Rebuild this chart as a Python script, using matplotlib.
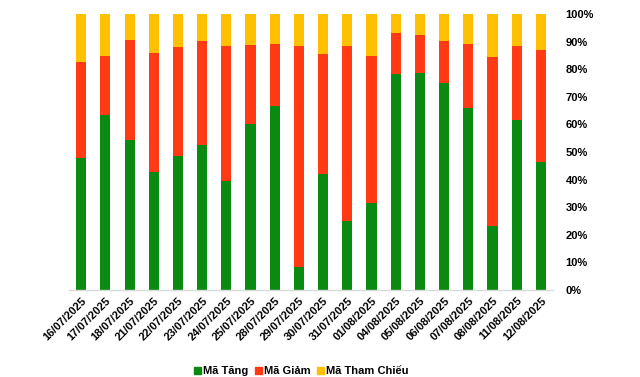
import numpy as np
import matplotlib.pyplot as plt
from matplotlib.ticker import FuncFormatter
from matplotlib.patches import Patch

plt.rcParams['font.family'] = ['Liberation Sans', 'DejaVu Sans']

# Data (% share of stocks per session)
dates = ["16/07/2025", "17/07/2025", "18/07/2025", "21/07/2025", "22/07/2025",
         "23/07/2025", "24/07/2025", "25/07/2025", "28/07/2025", "29/07/2025",
         "30/07/2025", "31/07/2025", "01/08/2025", "04/08/2025", "05/08/2025",
         "06/08/2025", "07/08/2025", "08/08/2025", "11/08/2025", "12/08/2025"]
ma_tang = [47.9, 63.4, 54.3, 42.8, 48.6, 52.5, 39.5, 60.3, 66.7, 8.3,
           42.1, 25.0, 31.6, 78.3, 78.6, 75.0, 65.9, 23.2, 61.6, 46.4]
ma_giam = [34.7, 21.4, 36.3, 43.1, 39.4, 37.7, 48.9, 28.5, 22.4, 80.1,
           43.4, 63.4, 53.2, 14.8, 13.8, 15.2, 23.2, 61.2, 26.8, 40.6]
ma_tham_chieu = [17.4, 15.2, 9.4, 14.1, 12.0, 9.8, 11.6, 11.2, 10.9, 11.6,
                 14.5, 11.6, 15.2, 6.9, 7.6, 9.8, 10.9, 15.6, 11.6, 13.0]

green = "#0A8A10"
red = "#FF3A14"
yellow = "#FFC000"

fig = plt.figure(figsize=(6.4, 3.77), dpi=100)
ax = fig.add_axes([0.108, 0.2308, 0.756, 0.7321])

x = np.arange(len(dates))
w = 0.42
tang = np.array(ma_tang)
giam = np.array(ma_giam)
tham = np.array(ma_tham_chieu)
ax.bar(x, tang, w, color=green, label="Mã Tăng")
ax.bar(x, giam, w, bottom=tang, color=red, label="Mã Giảm")
ax.bar(x, tham, w, bottom=tang + giam, color=yellow, label="Mã Tham Chiếu")

ax.set_xlim(-0.5, len(dates) - 0.5)
ax.set_ylim(0, 100)
ax.set_yticks(np.arange(0, 101, 10))
ax.yaxis.set_major_formatter(FuncFormatter(lambda v, p: f"{int(v)}%"))
ax.yaxis.tick_right()
ax.tick_params(axis='y', length=0, pad=9, labelsize=8)
for t in ax.get_yticklabels():
    t.set_fontweight('bold')

ax.set_xticks(x)
ax.set_xticklabels(dates, rotation=45, ha='right', rotation_mode='anchor',
                   fontsize=8, fontweight='bold')
ax.tick_params(axis='x', length=0, pad=4)

for s in ['top', 'left', 'right']:
    ax.spines[s].set_visible(False)
ax.spines['bottom'].set_color('#D9D9D9')
ax.spines['bottom'].set_linewidth(1.0)

handles = [Patch(color=green, label="Mã Tăng"),
           Patch(color=red, label="Mã Giảm"),
           Patch(color=yellow, label="Mã Tham Chiếu")]
leg = fig.legend(handles=handles, loc='lower center', bbox_to_anchor=(0.471, -0.025),
                 ncol=3, frameon=False, handlelength=0.6, handleheight=0.6,
                 handletextpad=0.2, columnspacing=0.6,
                 prop={'size': 8, 'weight': 'bold'})

fig.savefig("out.png", dpi=100)
